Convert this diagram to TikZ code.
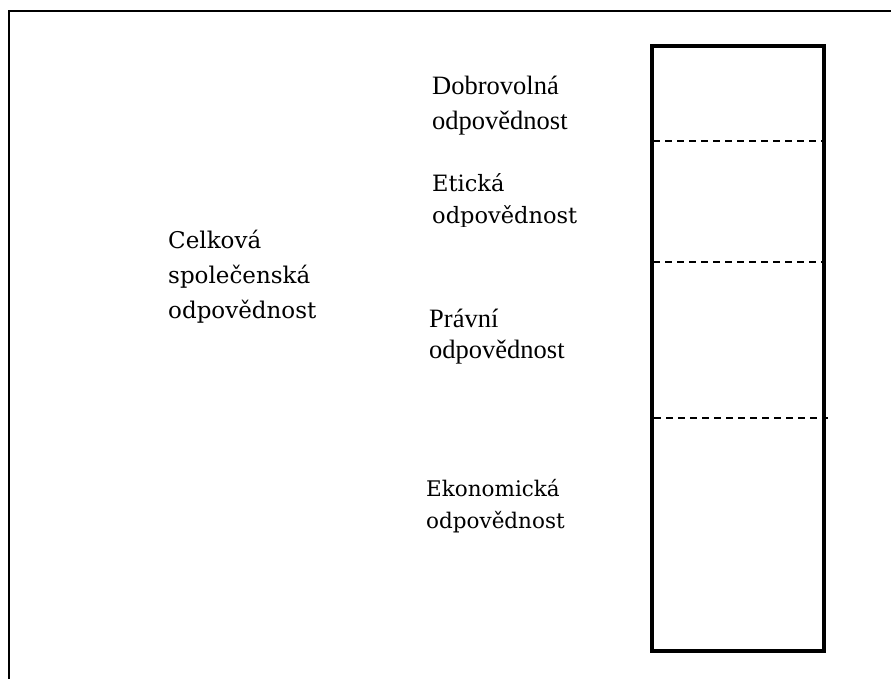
\documentclass[tikz,border=0pt]{standalone}
\usepackage{fontspec}
\setmainfont{Liberation Serif}
\newfontfamily\altserif{DejaVu Serif}
\usetikzlibrary{positioning}

% nodes sit on the baseline of their last line
\tikzset{
  resptext/.style={anchor=base west, align=left, inner sep=0pt,
    font=\fontsize{26.5}{35}\selectfont},
  altresptext/.style={resptext, font=\altserif\fontsize{23}{35}\selectfont},
  layerline/.style={dash pattern=on 7pt off 5pt, line width=1.7pt},
}

\begin{document}
\begin{tikzpicture}[x=1pt,y=-1pt]
  \useasboundingbox (0,0) rectangle (891,679);

  % page frame, cut at right and bottom
  \draw[line width=2.6pt] (9,679) -- (9,11) -- (891,11);

  % the column
  \draw[line width=3.2pt] (652,46) rectangle (824,651);
  \draw[layerline] (653,141) -- (824,141);
  \draw[layerline] (653,262) -- (824,262);
  \draw[layerline] (654,418) -- (828,418);

  % labels
  \node[altresptext] (total) at (168,318) {Celková\\společenská\\odpovědnost};
  \node[resptext] (volun) at (432,130) {Dobrovolná\\odpovědnost};
  \begin{scope}
    \clip (400,160) rectangle (600,226);
    \node[altresptext, font=\altserif\fontsize{22.5}{32}\selectfont] (ethic) at (432,223) {Etická\\odpovědnost};
  \end{scope}
  \node[resptext, font=\fontsize{26.5}{31}\selectfont] (legal) at (429,358) {Právní\\odpovědnost};
  \node[altresptext, font=\altserif\fontsize{21.5}{32}\selectfont] (econ) at (426,528) {Ekonomická\\odpovědnost};
\end{tikzpicture}
\end{document}
